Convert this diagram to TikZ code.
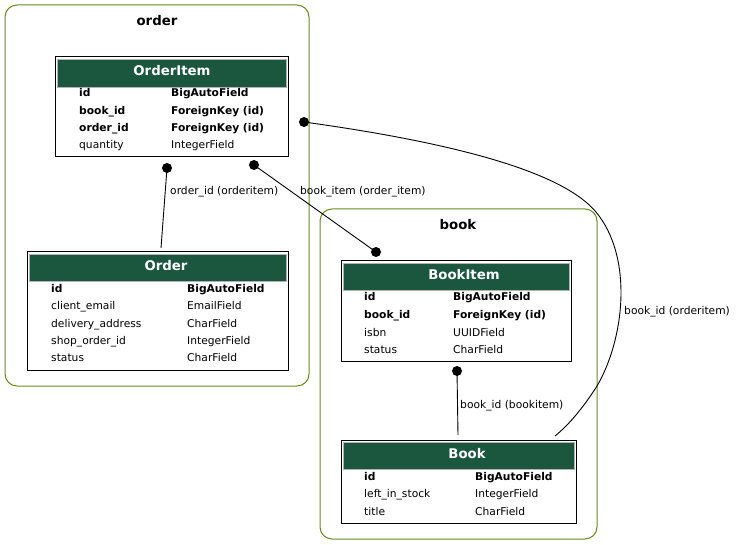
\documentclass[tikz,border=0pt]{standalone}
\usepackage{fontspec}
\setmainfont{DejaVu Sans}
\definecolor{hdrgreen}{HTML}{1B563F}
\definecolor{clustcol}{HTML}{698B22}
\begin{document}
\begin{tikzpicture}[x=1pt,y=-1pt,
  cluster/.style={draw=clustcol, rounded corners=12pt, line width=1pt},
  ctitle/.style={font=\bfseries\fontsize{13.3}{14}\selectfont},
  tbl/.style={draw=black, line width=1pt, fill=white},
  hdr/.style={fill=hdrgreen, draw=gray!60, line width=0.5pt},
  ttl/.style={text=white, font=\bfseries\fontsize{13.3}{14}\selectfont},
  fld/.style={anchor=base west, inner sep=0pt, yshift=-4pt, font=\fontsize{10.7}{12}\selectfont},
  kfld/.style={anchor=base west, inner sep=0pt, yshift=-4pt, font=\bfseries\fontsize{10.7}{12}\selectfont},
  elab/.style={anchor=base west, inner sep=0pt, yshift=-4pt, font=\fontsize{10.7}{12}\selectfont},
  dotn/.style={circle, fill=black, inner sep=0pt, minimum size=10pt},
  edge/.style={draw=black, line width=0.9pt}]
\useasboundingbox (0,0) rectangle (736,545);
% clusters
\draw[cluster] (5,5) rectangle (309,386);
\node[ctitle] (ordertitle) at (157,21) {order};
\draw[cluster] (320,209) rectangle (597,539);
\node[ctitle] (booktitle) at (458,225) {book};
% OrderItem
\draw[tbl] (55,57) rectangle (288,157);
\draw[hdr] (57,59) rectangle (286,87);
\node[ttl] (oititle) at (172,71) {OrderItem};
\node[kfld] (oi1a) at (79,93) {id};
\node[kfld] (oi1b) at (171,93) {BigAutoField};
\node[kfld] (oi2a) at (79,111) {book\_id};
\node[kfld] (oi2b) at (171,111) {ForeignKey (id)};
\node[kfld] (oi3a) at (79,128) {order\_id};
\node[kfld] (oi3b) at (171,128) {ForeignKey (id)};
\node[fld] (oi4a) at (79,145) {quantity};
\node[fld] (oi4b) at (171,145) {IntegerField};
% Order
\draw[tbl] (27,252) rectangle (288,370);
\draw[hdr] (29,254) rectangle (286,281);
\node[ttl] (otitle) at (166,266) {Order};
\node[kfld] (o1a) at (51,288) {id};
\node[kfld] (o1b) at (187,288) {BigAutoField};
\node[fld] (o2a) at (51,305) {client\_email};
\node[fld] (o2b) at (187,305) {EmailField};
\node[fld] (o3a) at (51,323) {delivery\_address};
\node[fld] (o3b) at (187,323) {CharField};
\node[fld] (o4a) at (51,340) {shop\_order\_id};
\node[fld] (o4b) at (187,340) {IntegerField};
\node[fld] (o5a) at (51,357) {status};
\node[fld] (o5b) at (187,357) {CharField};
% BookItem
\draw[tbl] (341,261) rectangle (571,361);
\draw[hdr] (343,263) rectangle (569,290);
\node[ttl] (bititle) at (464,275) {BookItem};
\node[kfld] (bi1a) at (364,297) {id};
\node[kfld] (bi1b) at (453,297) {BigAutoField};
\node[kfld] (bi2a) at (364,315) {book\_id};
\node[kfld] (bi2b) at (453,315) {ForeignKey (id)};
\node[fld] (bi3a) at (364,332) {isbn};
\node[fld] (bi3b) at (453,332) {UUIDField};
\node[fld] (bi4a) at (364,349) {status};
\node[fld] (bi4b) at (453,349) {CharField};
% Book
\draw[tbl] (341,440) rectangle (576,523);
\draw[hdr] (343,442) rectangle (574,469);
\node[ttl] (btitle) at (467,454) {Book};
\node[kfld] (b1a) at (364,476) {id};
\node[kfld] (b1b) at (475,476) {BigAutoField};
\node[fld] (b2a) at (364,493) {left\_in\_stock};
\node[fld] (b2b) at (475,493) {IntegerField};
\node[fld] (b3a) at (364,511) {title};
\node[fld] (b3b) at (475,511) {CharField};
% edge endpoints
\node[dotn] (d1) at (167,168) {};
\coordinate (e1) at (161,248);
\node[dotn] (d2) at (254,165) {};
\node[dotn] (d3) at (376,252) {};
\node[dotn] (d4) at (304,122) {};
\coordinate (e4) at (555,436);
\node[dotn] (d5) at (457,371) {};
\coordinate (e5) at (458,435);
% edges
\draw[edge] (d1.center) -- (e1);
\node[elab] (l1) at (170,191) {order\_id (orderitem)};
\draw[edge] (d2.center) -- (d3.center);
\node[elab] (l2) at (300,191) {book\_item (order\_item)};
\draw[edge] (d4.center) .. controls (470,145) and (565,175) .. (596,212)
  .. controls (634,258) and (624,340) .. (597,386)
  .. controls (585,405) and (570,424) .. (e4);
\node[elab] (l3) at (624,310) {book\_id (orderitem)};
\draw[edge] (d5.center) -- (e5);
\node[elab] (l4) at (460,404) {book\_id (bookitem)};
\end{tikzpicture}
\end{document}
